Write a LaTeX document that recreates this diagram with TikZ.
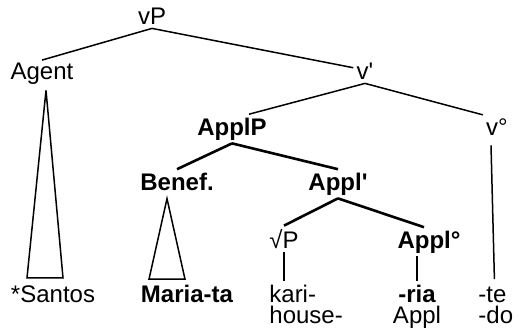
\documentclass[tikz,border=0pt]{standalone}
\usepackage{fontspec}
\newfontfamily\treefont{Liberation Sans}
\usetikzlibrary{calc}

\begin{document}
\begin{tikzpicture}[
  x=0.5pt, y=-0.5pt,
  lbl/.style={anchor=base, inner sep=1.5pt, font=\treefont\fontsize{12}{14}\selectfont},
  blbl/.style={lbl, font=\treefont\fontsize{12}{14}\selectfont\bfseries},
  br/.style={line width=0.75pt},
  bbr/.style={line width=1.3pt},
]
\useasboundingbox (0,0) rectangle (522,331);

% labels of the tree
\node[lbl]  (vP)       at (152,25)  {vP};
\node[lbl]  (agent)    at (42,80)   {Agent};
\node[lbl]  (vbar)     at (365,80)  {v'};
\node[blbl] (applP)    at (232,135) {ApplP};
\node[lbl]  (vdeg)     at (497,135) {v°};
\node[blbl] (benef)    at (177,190) {Benef.};
\node[blbl] (applbar)  at (338,190) {Appl'};
\node[lbl]  (rootP)    at (284,248) {√P};
\node[blbl] (applhead) at (429,248) {Appl°};

% words and glosses
\node[lbl]  (santos) at (53,302)  {*Santos};
\node[blbl] (maria)  at (187,302) {Maria-ta};
\node[lbl, anchor=base west] (kari)  at (266,302) {kari-};
\node[lbl, anchor=base west] (house) at (266,323) {house-};
\node[blbl] (ria)  at (417,302) {-ria};
\node[lbl]  (appl) at (417,323) {Appl};
\node[lbl, anchor=base west] (te) at (475,302) {-te};
\node[lbl, anchor=base west] (do) at (475,323) {-do};

% branches
\draw[br] (vP.south) -- (agent.north);
\draw[br] (vP.south) -- ($(vbar.west)+(0,-4)$);
\draw[br] (vbar.south) -- ($(applP.north)+(17,0)$);
\draw[br] (vbar.south) -- (vdeg.north west);
\draw[br] ($(vdeg.south)+(-6,7)$) -- ($(te.north)+(2,-4)$);

\draw[bbr] (applP.south) -- (benef.north);
\draw[bbr] (applP.south) -- (applbar.north);
\draw[bbr] (applbar.south) -- (rootP.north);
\draw[bbr] (applbar.south) -- ($(applhead.north)+(-5,0)$);

\draw[br] (rootP.south) -- (rootP.south |- kari.north);
\draw[br] (ria.north) -- (ria.north |- applhead.south);

% triangles
\draw[br] ($(agent.south)+(4,2)$) -- ($(santos.north)+(-26,-4)$)
  -- ($(santos.north)+(10,-4)$) -- cycle;
\draw[br] ($(benef.south)+(-10,5)$) -- ($(maria.north)+(-38,-2)$)
  -- ($(maria.north)+(-2,-2)$) -- cycle;
\end{tikzpicture}
\end{document}
